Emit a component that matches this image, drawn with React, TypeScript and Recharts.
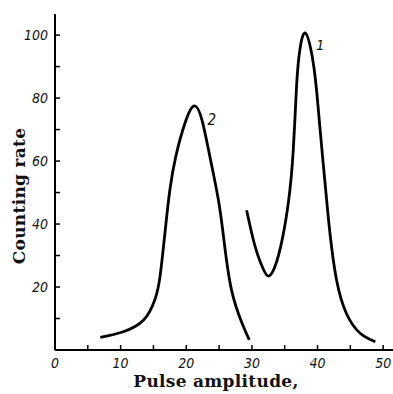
import { LineChart, Line, XAxis, YAxis, ReferenceDot } from 'recharts';

// curve 1 (right peak)
const amp1 = [29.2, 30.5, 31.8, 32.6, 33.5, 34.6, 35.6, 36.3, 36.8, 37.3, 38.1, 39.1, 39.8, 40.4, 41.2, 41.9, 42.9, 44.4, 46.5, 48.8];
const rate1 = [44.4, 32.8, 25.4, 23.5, 26.4, 34.9, 47.5, 63.4, 83.6, 95.2, 100.7, 94.2, 83.6, 69.8, 51.8, 37.0, 22.2, 11.6, 5.3, 2.6];

// curve 2 (left peak)
const amp2 = [6.9, 10.4, 13.5, 15.2, 16.0, 16.8, 17.5, 18.4, 19.8, 21.2, 22.4, 23.6, 24.9, 25.8, 26.9, 28.5, 29.6];
const rate2 = [4.0, 5.8, 9.5, 15.9, 23.3, 38.1, 50.8, 61.4, 72.0, 77.5, 73.0, 61.4, 47.6, 33.9, 19.0, 8.5, 3.2];

const xTicks = [0, 5, 10, 15, 20, 25, 30, 35, 40, 45, 50];
const yTicks = [10, 20, 30, 40, 50, 60, 70, 80, 90, 100];

const curve1 = amp1.map((x, i) => ({ x, y: rate1[i] }));
const curve2 = amp2.map((x, i) => ({ x, y: rate2[i] }));

const tickFont = "'DejaVu Sans Condensed', 'DejaVu Sans', sans-serif";
const titleFont = "'DejaVu Serif', serif";

function XTick({ x, y, payload }: any) {
  const v = payload.value;
  return (
    <g>
      {v !== 0 && <line x1={x} y1={y} x2={x} y2={y - 5} stroke="#000" strokeWidth={1.5} />}
      {v % 10 === 0 && (
        <text x={x} y={y + 18} textAnchor="middle" fontFamily={tickFont} fontStyle="italic" fontSize={14} fill="#111">
          {v}
        </text>
      )}
    </g>
  );
}

function YTick({ x, y, payload }: any) {
  const v = payload.value;
  return (
    <g>
      <line x1={x} y1={y} x2={x + 5} y2={y} stroke="#000" strokeWidth={1.5} />
      {v % 20 === 0 && (
        <text x={x - 7} y={y + 5} textAnchor="end" fontFamily={tickFont} fontStyle="italic" fontSize={14} fill="#111">
          {v}
        </text>
      )}
    </g>
  );
}

export default function App() {
  return (
    <div style={{ position: 'absolute', left: 0, top: 0, width: 393, height: 394, background: '#fff' }}>
      <LineChart width={393} height={394} margin={{ top: 14, right: 0, bottom: 0, left: 0 }}>
        <XAxis
          type="number"
          dataKey="x"
          domain={[0, 51.5]}
          ticks={xTicks}
          height={44}
          tickSize={0}
          tickMargin={0}
          tickLine={false}
          axisLine={{ stroke: '#000', strokeWidth: 2 }}
          tick={<XTick />}
          interval={0}
        />
        <YAxis
          type="number"
          dataKey="y"
          domain={[0, 106.7]}
          ticks={yTicks}
          width={55}
          tickSize={0}
          tickMargin={0}
          tickLine={false}
          axisLine={{ stroke: '#000', strokeWidth: 2 }}
          tick={<YTick />}
          interval={0}
        />
        <Line data={curve1} dataKey="y" type="natural" stroke="#000" strokeWidth={2.8} dot={false} isAnimationActive={false} />
        <Line data={curve2} dataKey="y" type="natural" stroke="#000" strokeWidth={2.8} dot={false} isAnimationActive={false} />
        <ReferenceDot x={40.4} y={96.8} r={0} label={{ value: '1', fontStyle: 'italic', fontFamily: tickFont, fontSize: 14, fill: '#111' }} />
        <ReferenceDot x={23.9} y={73} r={0} label={{ value: '2', fontStyle: 'italic', fontFamily: tickFont, fontSize: 15, fill: '#111' }} />
      </LineChart>
      <svg width={393} height={394} style={{ position: 'absolute', left: 0, top: 0, pointerEvents: 'none' }}>
        <text x={216} y={387} textAnchor="middle" fontFamily={titleFont} fontWeight="bold" fontSize={17} letterSpacing={0.3} fill="#111">
          Pulse amplitude,
        </text>
        <text x={25} y={196} transform="rotate(-90 25 196)" textAnchor="middle" fontFamily={titleFont} fontWeight="bold" fontSize={17} letterSpacing={0.3} fill="#111">
          Counting rate
        </text>
      </svg>
    </div>
  );
}
